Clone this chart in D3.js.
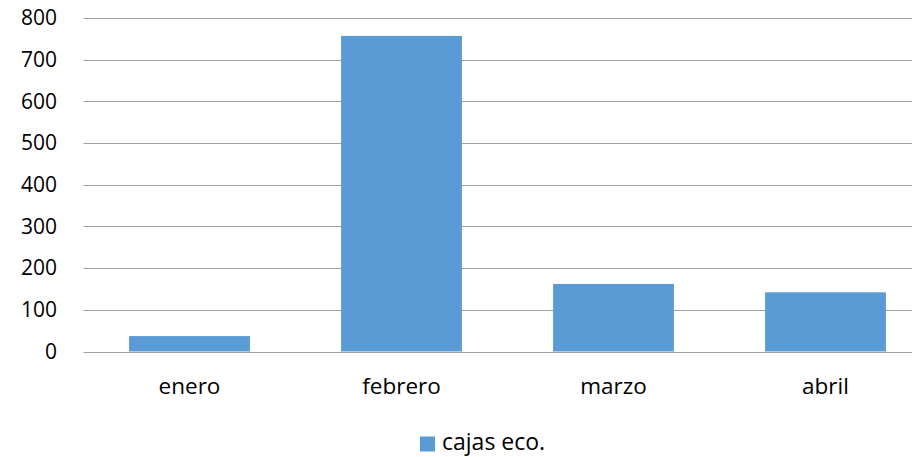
<!DOCTYPE html>
<html>
<head>
<meta charset="utf-8">
<script src="https://cdn.jsdelivr.net/npm/d3@7"></script>
<style>
  body { margin: 0; background: #fff; }
  svg text { font-family: "Open Sans", sans-serif; fill: #000; }
</style>
</head>
<body>
<div class="chart"></div>
<script>
var categories = ["enero", "febrero", "marzo", "abril"];
var values = [37, 757, 162, 142];
var seriesName = "cajas eco.";
var yTicks = [0, 100, 200, 300, 400, 500, 600, 700, 800];

var width = 912,
    height = 457;
// plot runs past the right edge, like the original crop
var plotLeft = 83.5, plotRight = 931.5, plotTop = 18, plotBottom = 351.5;

var svg = d3.select(".chart").append("svg")
    .attr("width", width)
    .attr("height", height);

var x = d3.scaleBand()
    .domain(categories)
    .range([plotLeft, plotRight])
    .paddingInner(0.43)
    .paddingOuter(0.215);

var y = d3.scaleLinear()
    .domain([0, 800])
    .range([plotBottom, plotTop]);

// gridlines
svg.append("g")
    .selectAll("line")
    .data(yTicks).enter()
    .append("line")
    .attr("x1", plotLeft)
    .attr("x2", plotRight)
    .attr("y1", d => Math.round(y(d)) + 0.5)
    .attr("y2", d => Math.round(y(d)) + 0.5)
    .attr("stroke", "#a0a0a0")
    .attr("stroke-width", 1.2);

// bars
svg.append("g")
    .selectAll("rect")
    .data(values).enter()
    .append("rect")
    .attr("x", (d, i) => x(categories[i]))
    .attr("width", x.bandwidth())
    .attr("y", d => y(d))
    .attr("height", d => y(0) - y(d))
    .attr("fill", "#5b9bd5");

// y tick labels
svg.append("g")
    .attr("font-size", 21)
    .attr("text-anchor", "end")
    .selectAll("text")
    .data(yTicks).enter()
    .append("text")
    .attr("x", 57)
    .attr("y", d => y(d))
    .attr("dy", "0.35em")
    .text(d => d);

// x labels
svg.append("g")
    .attr("font-size", 22.5)
    .attr("text-anchor", "middle")
    .selectAll("text")
    .data(categories).enter()
    .append("text")
    .attr("x", d => x(d) + x.bandwidth() / 2)
    .attr("y", 394)
    .text(d => d);

// legend
var legend = svg.append("g");
legend.append("rect")
    .attr("x", 420)
    .attr("y", 436.5)
    .attr("width", 15)
    .attr("height", 15)
    .attr("fill", "#5b9bd5");
legend.append("text")
    .attr("x", 442)
    .attr("y", 450)
    .attr("font-size", 23)
    .text(seriesName);
</script>
</body>
</html>
